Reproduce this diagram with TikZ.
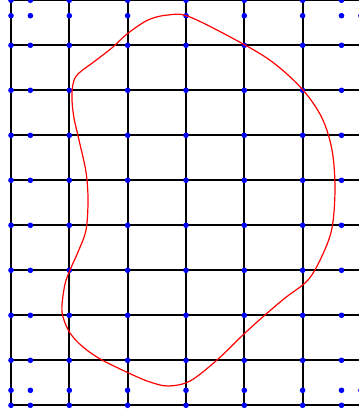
\documentclass[tikz,border=0pt]{standalone}
\usepackage{tikz}
\definecolor{gridblack}{RGB}{0,0,0}
\definecolor{dotblue}{RGB}{0,0,255}
\definecolor{curvered}{RGB}{255,0,0}
\tikzset{
  gridline/.style={line width=1.6pt, color=gridblack},
  gridpt/.style={fill=dotblue},
  region/.style={line width=0.9pt, color=curvered}
}

\begin{document}
\begin{tikzpicture}[x=0.75pt, y=-0.75pt]
  % Frame
  \useasboundingbox (0,0) rectangle (358,414);

  % Grid lines
  \foreach \gx in {11,69.3,127.6,186,244.3,302.6}
    \draw[gridline] (\gx,0) -- (\gx,405.3);
  \foreach \j in {0,...,9}
    \draw[gridline] (11,0.3+45*\j) -- (362,0.3+45*\j);

  % Sample points
  \foreach \gx in {11,30.4,69.3,127.6,186,244.3,302.6,341.5}
    \foreach \gy in {0.3,15.7,45.3,90.3,135.3,180.3,225.3,270.3,315.3,360.3,390.3,405.3}
      \fill[gridpt] (\gx,\gy) circle[radius=2.1pt];
  \fill[gridpt] (360.9,15.7) circle[radius=2.1pt];
  \fill[gridpt] (360.9,390.3) circle[radius=2.1pt];

  % Closed curve
  \draw[region] plot[smooth cycle, tension=0.55] coordinates {
    (127,34) (148,20) (168,15) (190,17) (245,45) (275,64)
    (303,90) (322,118) (332,150) (335,188) (332,228) (322,256)
    (308,280) (285,298) (265,315) (245,333) (217,360)
    (190,381) (168,386) (150,382) (133,375) (102,360) (83,347)
    (70,333) (63,317) (62,305) (65,284) (70,270) (78,252) (86,230)
    (88,200) (86,172) (79,140) (74,118) (72,100) (73,84) (78,74)
    (95,61) (113,47)};
\end{tikzpicture}
\end{document}
